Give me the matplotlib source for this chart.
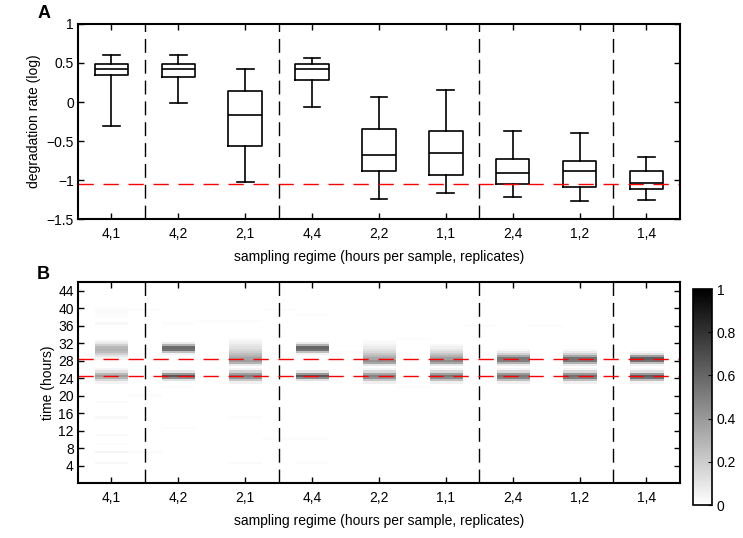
import numpy as np
import matplotlib
matplotlib.use('Agg')
import matplotlib.pyplot as plt
from matplotlib.ticker import FuncFormatter

plt.rcParams['font.family'] = ['Liberation Sans', 'DejaVu Sans']
plt.rcParams['font.size'] = 10

# ---------------- data ----------------
categories = ['4,1', '4,2', '2,1', '4,4', '2,2', '1,1', '2,4', '1,2', '1,4']
whisker_high = [0.60, 0.60, 0.42, 0.57, 0.07, 0.15, -0.37, -0.40, -0.71]
q3 = [0.49, 0.49, 0.14, 0.49, -0.34, -0.37, -0.73, -0.75, -0.89]
median = [0.42, 0.42, -0.17, 0.42, -0.68, -0.66, -0.91, -0.89, -1.04]
q1 = [0.34, 0.32, -0.56, 0.28, -0.89, -0.94, -1.05, -1.09, -1.12]
whisker_low = [-0.31, -0.01, -1.03, -0.06, -1.24, -1.17, -1.22, -1.27, -1.26]
true_rate = -1.055
group_separators = [1.5, 3.5, 6.5, 8.5]
true_peaks = [24.5, 28.3]
time_ticks = [4, 8, 12, 16, 20, 24, 28, 32, 36, 40, 44]

# posterior of peak time: per category, (start hour, values at 0.5 h steps)
bands = {
    '4,1': [(28.5, [0.04, 0.10, 0.18, 0.26, 0.30, 0.28, 0.18, 0.09, 0.04]),
            (23.0, [0.05, 0.15, 0.30, 0.38, 0.28, 0.12, 0.04]),
            (36.5, [0.03]), (38.0, [0.015, 0.015, 0.02, 0.02, 0.015]),
            (18.5, [0.02]), (15.0, [0.03]), (11.0, [0.02]), (9.0, [0.015]),
            (7.0, [0.04]), (4.5, [0.03])],
    '4,2': [(29.5, [0.05, 0.25, 0.55, 0.58, 0.30, 0.08]),
            (23.5, [0.12, 0.45, 0.65, 0.40, 0.10]),
            (36.5, [0.015]), (22.0, [0.015]), (12.5, [0.015])],
    '2,1': [(27.0, [0.08, 0.30, 0.38, 0.36, 0.30, 0.25, 0.20, 0.16, 0.12, 0.09, 0.06, 0.04, 0.02]),
            (23.0, [0.06, 0.22, 0.42, 0.50, 0.38, 0.18, 0.05]),
            (37.0, [0.015]), (15.0, [0.015]), (4.5, [0.02])],
    '4,4': [(29.5, [0.05, 0.25, 0.55, 0.60, 0.30, 0.08]),
            (23.5, [0.12, 0.45, 0.65, 0.40, 0.10]),
            (38.5, [0.015]), (10.0, [0.015]), (4.5, [0.015])],
    '2,2': [(27.0, [0.10, 0.35, 0.42, 0.35, 0.28, 0.22, 0.16, 0.12, 0.08, 0.05, 0.03, 0.02]),
            (23.0, [0.06, 0.22, 0.42, 0.48, 0.35, 0.15, 0.04])],
    '1,1': [(27.0, [0.10, 0.35, 0.45, 0.38, 0.30, 0.22, 0.15, 0.10, 0.06, 0.03]),
            (23.0, [0.06, 0.25, 0.45, 0.52, 0.38, 0.15, 0.04])],
    '2,4': [(27.0, [0.08, 0.30, 0.50, 0.52, 0.35, 0.18, 0.08, 0.03]),
            (23.0, [0.06, 0.25, 0.48, 0.52, 0.40, 0.15, 0.04])],
    '1,2': [(27.0, [0.08, 0.30, 0.52, 0.55, 0.35, 0.18, 0.08, 0.03]),
            (23.0, [0.06, 0.25, 0.50, 0.55, 0.40, 0.15, 0.04])],
    '1,4': [(27.0, [0.05, 0.25, 0.55, 0.62, 0.38, 0.12, 0.03]),
            (23.0, [0.05, 0.25, 0.55, 0.62, 0.40, 0.12, 0.03])],
}
# faint values in the columns between categories
gap_bands = [
    [(39.5, [0.015]), (20.0, [0.015]), (7.0, [0.02])],
    [(37.0, [0.015])],
    [(39.5, [0.015]), (10.0, [0.015])],
    [(30.0, [0.015])],
    [(33.0, [0.015]), (22.0, [0.015])],
    [(36.0, [0.015])],
    [(36.0, [0.015])],
    [(26.5, [0.015])],
]

# ---------------- figure ----------------
fig = plt.figure(figsize=(7.43, 5.38), dpi=100)
axA = fig.add_axes([0.105, 0.5929, 0.810, 0.3625])
axB = fig.add_axes([0.105, 0.1022, 0.810, 0.3736])
cax = fig.add_axes([0.9327, 0.0613, 0.0256, 0.4015])

x = np.arange(1, len(categories) + 1)

# panel A: boxplots
stats = []
for i in range(len(categories)):
    stats.append(dict(med=median[i], q1=q1[i], q3=q3[i],
                      whislo=whisker_low[i], whishi=whisker_high[i],
                      fliers=[], label=categories[i]))
lp = dict(color='black', linewidth=1.2)
axA.bxp(stats, positions=x, widths=0.5, showfliers=False,
        boxprops=lp, medianprops=lp, whiskerprops=dict(color='black', linewidth=1.2, linestyle='-'),
        capprops=lp)
for s in group_separators:
    axA.axvline(s, color='black', linewidth=1.0, dashes=(10, 5))
axA.axhline(true_rate, color='red', linewidth=1.0, dashes=(11, 7))
axA.set_xlim(0.5, 9.5)
axA.set_ylim(-1.5, 1)
axA.set_yticks([-1.5, -1, -0.5, 0, 0.5, 1])
axA.yaxis.set_major_formatter(FuncFormatter(lambda v, p: ('%g' % v).replace('-', '\u2212')))
axA.set_xticks(x)
axA.set_xticklabels(categories)
axA.set_ylabel('degradation rate (log)')
axA.set_xlabel('sampling regime (hours per sample, replicates)', labelpad=6)

# panel B: heatmap
step = 0.5
nrows = int(46 / step)
grid = np.zeros((nrows, 2 * len(categories) - 1))
for i, c in enumerate(categories):
    for start, vals in bands[c]:
        r0 = int(round(start / step))
        for k, v in enumerate(vals):
            grid[r0 + k, 2 * i] = v
for j, gb in enumerate(gap_bands):
    for start, vals in gb:
        r0 = int(round(start / step))
        for k, v in enumerate(vals):
            grid[r0 + k, 2 * j + 1] = v

im = axB.imshow(grid, origin='lower', aspect='auto', cmap='gray_r', vmin=0, vmax=1,
                extent=[0.75, len(categories) + 0.25, -0.25, 46 - 0.25],
                interpolation='nearest')
for s in group_separators:
    axB.axvline(s, color='black', linewidth=1.0, dashes=(10, 5))
for t in true_peaks:
    axB.axhline(t, color='red', linewidth=1.0, dashes=(11, 7))
axB.set_xlim(0.5, 9.5)
axB.set_ylim(0, 46)
axB.set_yticks(time_ticks)
axB.set_xticks(x)
axB.set_xticklabels(categories)
axB.set_ylabel('time (hours)', labelpad=2)
axB.set_xlabel('sampling regime (hours per sample, replicates)', labelpad=6)

cb = fig.colorbar(im, cax=cax, ticks=[0, 0.2, 0.4, 0.6, 0.8, 1])
cb.ax.yaxis.set_major_formatter(FuncFormatter(lambda v, p: '%g' % v))
cb.outline.set_linewidth(1.2)
cb.ax.tick_params(direction='in', length=3, width=0.8, labelsize=10)

for ax in (axA, axB):
    for sp in ax.spines.values():
        sp.set_linewidth(1.5)
    ax.tick_params(direction='in', top=True, right=True, length=4, width=1.0,
                   labelsize=10, pad=6)
    ax.tick_params(axis='y', pad=3)

fig.text(0.050, 0.975, 'A', fontsize=13, fontweight='bold', ha='left', va='center')
fig.text(0.050, 0.490, 'B', fontsize=13, fontweight='bold', ha='left', va='center')

fig.savefig('out.png', dpi=100)
